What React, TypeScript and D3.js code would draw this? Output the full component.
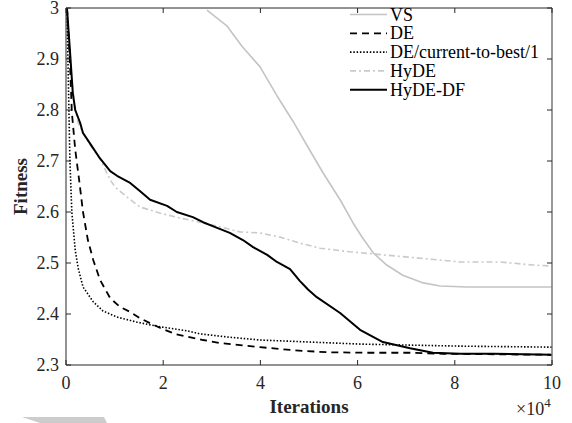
import React, { useEffect, useRef } from "react";
import * as d3 from "d3";

// iterations are in units of 1e4
const vsX = [2.9, 3.31, 3.62, 3.99, 4.34, 4.67, 4.98, 5.3, 5.64, 5.91, 6.09, 6.32, 6.6, 6.93, 7.35, 7.7, 8.25, 10];
const vsY = [2.996, 2.965, 2.925, 2.885, 2.828, 2.778, 2.727, 2.675, 2.624, 2.578, 2.551, 2.52, 2.496, 2.476, 2.461, 2.455, 2.453, 2.453];

const deX = [0.02, 0.08, 0.12, 0.19, 0.27, 0.35, 0.45, 0.56, 0.7, 0.91, 1.11, 1.32, 1.52, 1.73, 1.93, 2.24, 2.82, 3.17, 3.58, 3.99, 4.67, 5.37, 6.26, 7.08, 7.76, 10];
const deY = [3.0, 2.898, 2.796, 2.722, 2.663, 2.6, 2.545, 2.506, 2.467, 2.431, 2.414, 2.404, 2.392, 2.382, 2.373, 2.361, 2.349, 2.343, 2.339, 2.335, 2.329, 2.325, 2.324, 2.324, 2.322, 2.32];

const ctbX = [0.02, 0.04, 0.06, 0.08, 0.12, 0.19, 0.25, 0.35, 0.56, 0.76, 1.05, 1.46, 1.93, 2.49, 2.76, 3.31, 3.99, 6.05, 8.11, 10];
const ctbY = [3.0, 2.898, 2.8, 2.702, 2.6, 2.525, 2.49, 2.453, 2.424, 2.406, 2.394, 2.384, 2.375, 2.367, 2.361, 2.355, 2.349, 2.341, 2.337, 2.335];

const hydeX = [0.02, 0.12, 0.19, 0.25, 0.35, 0.49, 0.7, 0.91, 1.01, 1.26, 1.52, 1.93, 2.35, 2.76, 3.17, 3.58, 3.99, 4.4, 4.81, 5.23, 5.84, 6.52, 7.22, 8.11, 8.93, 9.61, 10];
const hydeY = [3.0, 2.859, 2.8, 2.775, 2.755, 2.732, 2.704, 2.663, 2.649, 2.629, 2.61, 2.598, 2.588, 2.58, 2.571, 2.561, 2.559, 2.551, 2.539, 2.529, 2.522, 2.516, 2.51, 2.502, 2.502, 2.496, 2.494];

const dfX = [0.02, 0.08, 0.14, 0.19, 0.29, 0.35, 0.49, 0.7, 0.91, 1.05, 1.32, 1.52, 1.73, 2.08, 2.28, 2.61, 2.82, 3.11, 3.37, 3.64, 3.85, 4.14, 4.34, 4.61, 4.81, 4.98, 5.16, 5.64, 6.05, 6.52, 7.08, 7.55, 8.11, 8.79, 10];
const dfY = [3.0, 2.918, 2.833, 2.8, 2.775, 2.755, 2.735, 2.705, 2.68, 2.671, 2.657, 2.641, 2.624, 2.612, 2.6, 2.59, 2.58, 2.569, 2.559, 2.545, 2.531, 2.516, 2.502, 2.488, 2.465, 2.448, 2.433, 2.402, 2.369, 2.345, 2.333, 2.324, 2.322, 2.322, 2.32];

const legendNames = ["VS", "DE", "DE/current-to-best/1", "HyDE", "HyDE-DF"];
const xTicks = [0, 2, 4, 6, 8, 10];
const yTicks = [2.3, 2.4, 2.5, 2.6, 2.7, 2.8, 2.9, 3];

const styles = [
  { color: "#c4c4c4", width: 1.6, dash: null },
  { color: "#000", width: 1.8, dash: "7,5" },
  { color: "#000", width: 1.6, dash: "1.5,1.8" },
  { color: "#cacaca", width: 1.6, dash: "6,3,2,3" },
  { color: "#000", width: 2, dash: null },
];

export default function App() {
  const svgRef = useRef<SVGSVGElement>(null);

  useEffect(() => {
    const svg = d3.select(svgRef.current);
    svg.selectAll("*").remove();

    const width = 572;
    const height = 423;
    const margin = { top: 8, right: 20, bottom: 58, left: 66 };
    const font = "'Liberation Serif', 'Times New Roman', serif";

    svg.attr("width", width).attr("height", height);

    const x = d3.scaleLinear().domain([0, 10]).range([margin.left, width - margin.right]);
    const y = d3.scaleLinear().domain([2.3, 3]).range([height - margin.bottom, margin.top]);

    // background
    svg.append("rect").attr("width", width).attr("height", height).attr("fill", "#fff");

    svg.append("clipPath").attr("id", "plotclip")
      .append("rect")
      .attr("x", x(0)).attr("y", y(3))
      .attr("width", x(10) - x(0)).attr("height", y(2.3) - y(3));

    //series
    const series = [
      vsX.map((v, i) => [v, vsY[i]]),
      deX.map((v, i) => [v, deY[i]]),
      ctbX.map((v, i) => [v, ctbY[i]]),
      hydeX.map((v, i) => [v, hydeY[i]]),
      dfX.map((v, i) => [v, dfY[i]]),
    ];
    const line = d3.line<number[]>().x((d) => x(d[0])).y((d) => y(d[1]));
    const drawOrder = [0, 3, 2, 1, 4];
    drawOrder.forEach((k) => {
      const s = styles[k];
      svg.append("path")
        .datum(series[k])
        .attr("clip-path", "url(#plotclip)")
        .attr("fill", "none")
        .attr("stroke", s.color)
        .attr("stroke-width", s.width)
        .attr("stroke-dasharray", s.dash)
        .attr("stroke-linejoin", "round")
        .attr("d", line);
    });

    //axes box
    const axisColor = "#262626";
    const x0 = x(0), x1 = x(10), y0 = y(2.3), y1 = y(3);
    svg.append("line").attr("x1", x0).attr("x2", x1).attr("y1", y0).attr("y2", y0).attr("stroke", axisColor);
    svg.append("line").attr("x1", x0).attr("x2", x1).attr("y1", y1).attr("y2", y1).attr("stroke", axisColor);
    svg.append("line").attr("x1", x0).attr("x2", x0).attr("y1", y0).attr("y2", y1).attr("stroke", axisColor);
    svg.append("line").attr("x1", x1).attr("x2", x1).attr("y1", y0).attr("y2", y1).attr("stroke", "#777").attr("stroke-width", 1.5);

    const tl = 5;
    xTicks.forEach((t) => {
      svg.append("line").attr("x1", x(t)).attr("x2", x(t)).attr("y1", y0).attr("y2", y0 - tl).attr("stroke", axisColor);
      svg.append("line").attr("x1", x(t)).attr("x2", x(t)).attr("y1", y1).attr("y2", y1 + tl).attr("stroke", axisColor);
      svg.append("text")
        .attr("x", x(t)).attr("y", y0 + 24)
        .attr("text-anchor", "middle")
        .attr("font-family", font).attr("font-size", 18).attr("fill", "#262626")
        .text(t);
    });
    yTicks.forEach((t) => {
      svg.append("line").attr("x1", x0).attr("x2", x0 + tl).attr("y1", y(t)).attr("y2", y(t)).attr("stroke", axisColor);
      svg.append("line").attr("x1", x1).attr("x2", x1 - tl).attr("y1", y(t)).attr("y2", y(t)).attr("stroke", axisColor);
      svg.append("text")
        .attr("x", x0 - 7).attr("y", y(t) + 6)
        .attr("text-anchor", "end")
        .attr("font-family", font).attr("font-size", 18).attr("fill", "#262626")
        .text(d3.format("~g")(t));
    });

    //axis labels
    svg.append("text")
      .attr("x", (x0 + x1) / 2).attr("y", 413)
      .attr("text-anchor", "middle")
      .attr("font-family", font).attr("font-size", 19).attr("font-weight", "bold").attr("fill", "#262626")
      .text("Iterations");
    svg.append("text")
      .attr("transform", "rotate(-90)")
      .attr("x", -(y0 + y1) / 2).attr("y", 27)
      .attr("text-anchor", "middle")
      .attr("font-family", font).attr("font-size", 19).attr("font-weight", "bold").attr("fill", "#262626")
      .text("Fitness");

    const mult = svg.append("text")
      .attr("x", 516).attr("y", 415)
      .attr("font-family", font).attr("font-size", 18).attr("fill", "#262626");
    mult.append("tspan").text("\u00d710");
    mult.append("tspan").attr("dy", -8).attr("font-size", 13).text("4");

    //legend
    legendNames.forEach((name, i) => {
      const s = styles[i];
      const ly = 14.5 + i * 18.8;
      svg.append("line")
        .attr("x1", 350).attr("x2", 387).attr("y1", ly).attr("y2", ly)
        .attr("stroke", s.color).attr("stroke-width", s.width)
        .attr("stroke-dasharray", s.dash);
      svg.append("text")
        .attr("x", 390).attr("y", ly + 6)
        .attr("font-family", font).attr("font-size", 18).attr("fill", "#000")
        .text(name);
    });

    // gray mark at the bottom left
    svg.append("polygon")
      .attr("points", "22,417 104,417 107,423 40,423")
      .attr("fill", "#cccccc");
  }, []);

  return (
    <div style={{ position: "absolute", left: 0, top: 0 }}>
      <svg ref={svgRef} style={{ display: "block" }}></svg>
    </div>
  );
}
